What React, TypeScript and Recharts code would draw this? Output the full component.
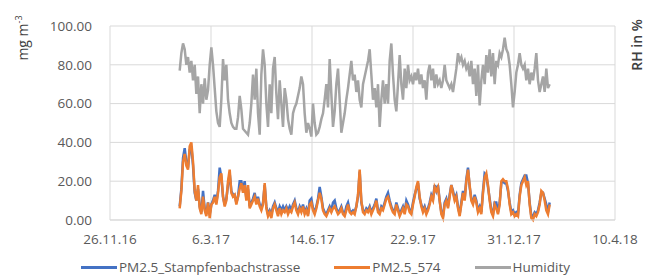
import { CartesianGrid, Line, LineChart, XAxis, YAxis } from "recharts";

// x = days after 26.11.16, one reading every ~1.65 days from early Feb 2017
const dateTicks = [0, 100, 200, 300, 400, 500];
const dateLabels = ["26.11.16", "6.3.17", "14.6.17", "22.9.17", "31.12.17", "10.4.18"];
const valueTicks = [0, 20, 40, 60, 80, 100];
const firstDay = 69;
const dayStep = 1.65;

const stampfenbach = [
  7, 16, 32, 37, 30, 27, 36, 38, 28, 14, 10, 16, 7, 4, 15, 6, 3, 9, 3, 8,
  10, 13, 9, 15, 27, 22, 12, 8, 11, 18, 24, 15, 13, 13, 9, 12, 20, 20, 15, 20,
  11, 16, 7, 9, 11, 14, 9, 12, 8, 6, 9, 18, 7, 3, 5, 3, 7, 9, 6, 4,
  7, 5, 7, 5, 7, 5, 7, 5, 8, 10, 6, 4, 7, 5, 8, 4, 6, 3, 10, 11,
  6, 4, 7, 11, 17, 12, 6, 4, 3, 5, 7, 5, 9, 10, 6, 4, 5, 7, 4, 3,
  7, 9, 5, 4, 5, 4, 7, 12, 25, 9, 5, 4, 6, 5, 7, 4, 6, 8, 11, 5,
  4, 7, 6, 9, 12, 14, 10, 7, 5, 4, 9, 6, 3, 5, 7, 4, 10, 8, 5, 4,
  9, 13, 16, 19, 11, 8, 5, 7, 4, 6, 9, 13, 11, 18, 15, 18, 10, 4, 2, 9,
  11, 7, 13, 18, 15, 11, 13, 7, 3, 9, 15, 11, 21, 27, 17, 11, 9, 13, 10, 5,
  7, 4, 15, 24, 23, 17, 11, 5, 3, 9, 9, 4, 9, 19, 20, 19, 19, 15, 9, 4,
  5, 3, 4, 3, 13, 19, 21, 23, 23, 19, 9, 2, 2, 4, 3, 5, 9, 14, 14, 11,
  8, 4, 9,
];

const pm574 = [
  6, 15, 30, 34, 28, 26, 38, 40, 30, 15, 10, 18, 6, 3, 12, 5, 2, 9, 1, 8,
  9, 12, 8, 14, 22, 24, 12, 7, 10, 20, 26, 14, 12, 13, 8, 12, 16, 19, 14, 18,
  10, 18, 6, 8, 10, 12, 8, 11, 7, 5, 8, 19, 6, 2, 4, 1, 6, 8, 5, 2,
  6, 3, 5, 4, 6, 3, 5, 4, 7, 9, 5, 3, 6, 4, 7, 3, 5, 2, 8, 9,
  5, 3, 6, 10, 14, 11, 5, 3, 2, 4, 6, 4, 6, 7, 5, 3, 4, 6, 3, 2,
  5, 8, 4, 3, 4, 3, 7, 13, 26, 10, 4, 3, 5, 4, 6, 3, 5, 7, 10, 4,
  3, 6, 5, 8, 11, 12, 9, 6, 4, 3, 8, 5, 2, 4, 6, 3, 8, 7, 4, 3,
  8, 12, 17, 20, 12, 7, 4, 6, 3, 5, 8, 12, 10, 17, 15, 17, 10, 3, 1, 8,
  10, 6, 12, 18, 14, 10, 12, 6, 2, 8, 14, 10, 20, 26, 18, 10, 8, 12, 9, 4,
  6, 3, 14, 22, 24, 18, 10, 4, 2, 8, 6, 3, 8, 20, 21, 20, 20, 16, 8, 3,
  4, 2, 3, 2, 12, 18, 20, 22, 18, 20, 8, 1, 0, 3, 2, 4, 8, 15, 14, 10,
  5, 3, 8,
];

const humidity = [
  77, 86, 91, 88, 80, 84, 76, 82, 72, 80, 65, 74, 55, 70, 60, 73, 62, 67, 80, 89,
  80, 68, 56, 50, 48, 62, 83, 72, 80, 62, 55, 50, 48, 47, 47, 53, 64, 57, 47, 46,
  45, 44, 50, 60, 75, 62, 78, 55, 44, 75, 88, 80, 60, 48, 70, 55, 78, 84, 65, 52,
  72, 60, 48, 68, 62, 52, 47, 44, 55, 58, 60, 64, 68, 74, 70, 55, 45, 50, 47, 43,
  60, 50, 44, 45, 48, 52, 55, 62, 70, 58, 83, 65, 48, 56, 70, 78, 62, 45, 50, 55,
  62, 68, 75, 82, 72, 75, 66, 72, 62, 58, 70, 74, 78, 82, 88, 75, 62, 68, 58, 70,
  48, 62, 72, 60, 70, 60, 82, 91, 75, 62, 56, 70, 85, 70, 62, 78, 68, 80, 72, 74,
  70, 76, 72, 78, 70, 75, 68, 72, 62, 76, 80, 72, 78, 68, 75, 70, 72, 68, 72, 80,
  72, 70, 68, 70, 66, 72, 78, 86, 82, 84, 80, 82, 78, 80, 74, 82, 70, 78, 64, 80,
  59, 72, 80, 70, 85, 76, 88, 74, 86, 70, 82, 80, 86, 84, 88, 94, 88, 86, 80, 70,
  58, 66, 76, 80, 86, 80, 78, 80, 72, 78, 70, 76, 72, 78, 86, 72, 66, 70, 74, 66,
  78, 68, 70,
];

const chartData = humidity.map((h, i) => ({
  day: firstDay + i * dayStep,
  stampfenbach: stampfenbach[i],
  pm574: pm574[i],
  humidity: h,
}));

const font = "'Open Sans', sans-serif";
const tickStyle = { fill: "#595959", fontSize: 13.5, fontFamily: font };

const legendItems = [
  { name: "PM2.5_Stampfenbachstrasse", color: "#4472c4" },
  { name: "PM2.5_574", color: "#ed7d31" },
  { name: "Humidity", color: "#a5a5a5" },
];

export default function App() {
  return (
    <div style={{ position: "relative", width: 651, height: 280, background: "#fff", fontFamily: font }}>
      <style>{"body{margin:0}"}</style>
      <LineChart width={651} height={280} data={chartData} margin={{ top: 26, right: 36, bottom: 30, left: 0 }}>
        <CartesianGrid stroke="#d9d9d9" />
        <XAxis
          dataKey="day"
          type="number"
          domain={[0, 500]}
          ticks={dateTicks}
          tickFormatter={(v) => dateLabels[dateTicks.indexOf(v)]}
          tick={tickStyle}
          tickLine={false}
          axisLine={{ stroke: "#d9d9d9" }}
          tickMargin={8}
          height={30}
          interval={0}
        />
        <YAxis
          type="number"
          domain={[0, 100]}
          ticks={valueTicks}
          tickFormatter={(v) => v.toFixed(2)}
          tick={tickStyle}
          tickLine={false}
          axisLine={false}
          width={110}
          tickMargin={12}
        />
        <Line dataKey="humidity" stroke="#a5a5a5" strokeWidth={2.5} dot={false} isAnimationActive={false} />
        <Line dataKey="stampfenbach" stroke="#4472c4" strokeWidth={2.5} dot={false} isAnimationActive={false} />
        <Line dataKey="pm574" stroke="#ed7d31" strokeWidth={2.5} dot={false} isAnimationActive={false} />
      </LineChart>

      <div
        style={{
          position: "absolute",
          left: 22,
          top: 38,
          transform: "translate(-50%, -50%) rotate(-90deg)",
          fontSize: 14,
          color: "#404040",
          whiteSpace: "nowrap",
        }}
      >
        mg m<sup style={{ fontSize: 9 }}>-3</sup>
      </div>
      <div
        style={{
          position: "absolute",
          left: 636,
          top: 45,
          transform: "translate(-50%, -50%) rotate(-90deg)",
          fontSize: 14,
          fontWeight: 600,
          color: "#404040",
          whiteSpace: "nowrap",
        }}
      >
        RH in %
      </div>

      <div
        style={{
          position: "absolute",
          left: 0,
          top: 258,
          width: 651,
          display: "flex",
          justifyContent: "center",
          gap: 34,
          fontSize: 13.5,
          color: "#595959",
        }}
      >
        {legendItems.map((item) => (
          <div key={item.name} style={{ display: "flex", alignItems: "center" }}>
            <span style={{ display: "inline-block", width: 36, height: 3, background: item.color, marginRight: 2 }} />
            {item.name}
          </div>
        ))}
      </div>
    </div>
  );
}
